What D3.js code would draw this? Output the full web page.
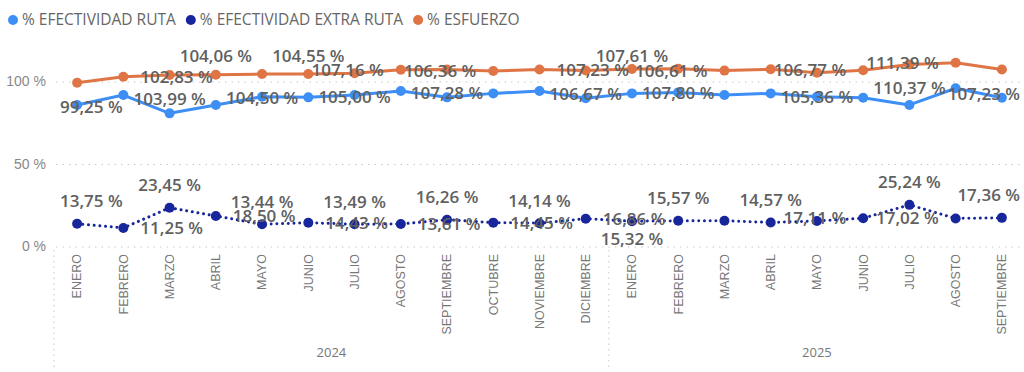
<!DOCTYPE html>
<html>
<head>
<meta charset="utf-8">
<script src="https://cdn.jsdelivr.net/npm/d3@7"></script>
<style>
    body { margin: 0; background: #fff; }
    svg { display: block; font-family: 'Open Sans', sans-serif; }
    .legend-text { fill: #666; font-size: 15.5px; }
    .y-axis text { fill: #888; font-size: 14px; }
    .x-axis text { fill: #777; font-size: 12.5px; }
    .year-label { fill: #777; font-size: 13px; }
    .data-label { fill: #606060; font-size: 17px; font-weight: 600; }
</style>
</head>
<body>
<svg id="chart" width="1024" height="372"></svg>
<script>
// periods on the category axis
const years = ['2024', '2025'];
const months2024 = ['ENERO', 'FEBRERO', 'MARZO', 'ABRIL', 'MAYO', 'JUNIO', 'JULIO', 'AGOSTO', 'SEPTIEMBRE', 'OCTUBRE', 'NOVIEMBRE', 'DICIEMBRE'];
const months2025 = ['ENERO', 'FEBRERO', 'MARZO', 'ABRIL', 'MAYO', 'JUNIO', 'JULIO', 'AGOSTO', 'SEPTIEMBRE'];

// series values (%)
const efectividadRuta = [85.8, 91.8, 80.7, 85.8, 90.8, 90.4, 91.8, 94.2, 90.4, 92.8, 94.2, 89.8, 92.8, 93.4, 91.8, 92.8, 90.8, 90.2, 85.8, 95.9, 90.2];
const efectividadExtraRuta = [13.75, 11.25, 23.45, 18.50, 13.44, 14.43, 13.49, 13.61, 16.26, 14.45, 14.14, 16.86, 15.32, 15.57, 15.6, 14.57, 15.5, 17.11, 25.24, 17.02, 17.36];
const esfuerzo = [99.25, 102.83, 103.99, 104.06, 104.50, 104.55, 105.00, 107.16, 107.28, 106.36, 107.23, 106.67, 107.61, 107.80, 106.61, 107.4, 105.36, 106.77, 110.37, 111.39, 107.23];

const yTicks = [0, 50, 100];

// where each data label sits relative to its point (a above, b below, l left, r right, null hidden)
const esfuerzoLabelPos = ['b', 'r', 'b', 'a', 'b', 'a', 'b', 'l', 'b', 'l', 'r', 'b', 'a', 'b', 'l', null, 'b', 'l', 'b', 'l', 'b'];
const extraLabelPos = ['a', 'r', 'a', 'r', 'a', 'r', 'a', 'r', 'a', 'r', 'a', 'r', 'b', 'a', null, 'a', null, 'l', 'a', 'l', 'a'];

document.addEventListener('DOMContentLoaded', function() {
    const svg = d3.select('#chart');

    const periods = months2024.map(m => ({ year: '2024', month: m }))
        .concat(months2025.map(m => ({ year: '2025', month: m })));
    const keys = periods.map((d, i) => String(i));

    const plotLeft = 54, plotRight = 1025;
    const x = d3.scaleBand().domain(keys).range([plotLeft, plotRight]);
    const cx = i => x(String(i)) + x.bandwidth() / 2;
    const y = d3.scaleLinear().domain([0, 100]).range([246.5, 81.5]);

    const series = [
        { name: '% EFECTIVIDAD RUTA', values: efectividadRuta, color: '#3d8ef5', dotted: false, labels: null },
        { name: '% EFECTIVIDAD EXTRA RUTA', values: efectividadExtraRuta, color: '#18269c', dotted: true, labels: extraLabelPos },
        { name: '% ESFUERZO', values: esfuerzo, color: '#df7445', dotted: false, labels: esfuerzoLabelPos }
    ];

    drawLegend();
    drawAxes();
    series.forEach(drawSeries);
    series.forEach(drawLabels);

    function drawLegend() {
        let lx = 8;
        series.forEach(s => {
            svg.append('circle').attr('cx', lx + 5).attr('cy', 20).attr('r', 5).attr('fill', s.color);
            const t = svg.append('text').attr('class', 'legend-text')
                .attr('x', lx + 14).attr('y', 20).attr('dy', '0.35em').text(s.name);
            lx += 14 + t.node().getComputedTextLength() + 10;
        });
    }

    function drawAxes() {
        const gy = svg.append('g').attr('class', 'y-axis').attr('transform', 'translate(56,0)')
            .call(d3.axisLeft(y).tickValues(yTicks).tickSize(-964).tickPadding(10).tickFormat(d => d + ' %'));
        gy.select('.domain').remove();
        gy.selectAll('line').attr('stroke', '#c8c8c8').attr('stroke-dasharray', '1.5,5');

        const gx = svg.append('g').attr('class', 'x-axis').attr('transform', 'translate(0,254)')
            .call(d3.axisBottom(x).tickSize(0).tickFormat(k => periods[+k].month));
        gx.select('.domain').remove();
        gx.selectAll('text')
            .attr('x', 0).attr('y', 0).attr('dy', '0.35em')
            .attr('transform', 'rotate(-90)')
            .style('text-anchor', 'end');

        // hierarchy separators and year labels
        const firstOf2025 = months2024.length;
        [plotLeft, x(String(firstOf2025))].forEach(sx => {
            svg.append('line').attr('x1', sx).attr('x2', sx).attr('y1', 250).attr('y2', 367)
                .attr('stroke', '#c8c8c8').attr('stroke-dasharray', '1.5,4');
        });
        years.forEach(yr => {
            const idx = periods.map((d, i) => i).filter(i => periods[i].year === yr);
            const mid = (cx(idx[0]) + cx(idx[idx.length - 1])) / 2;
            svg.append('text').attr('class', 'year-label').attr('x', mid).attr('y', 352)
                .attr('dy', '0.35em').style('text-anchor', 'middle').text(yr);
        });
    }

    function drawSeries(s) {
        const line = d3.line().x((d, i) => cx(i)).y(d => y(d)).curve(d3.curveLinear);
        const path = svg.append('path').datum(s.values)
            .attr('d', line).attr('fill', 'none').attr('stroke', s.color)
            .attr('stroke-width', 3).attr('stroke-linejoin', 'round');
        if (s.dotted) {
            path.attr('stroke-dasharray', '0.01,5.7').attr('stroke-linecap', 'round');
        }
        svg.append('g').selectAll('circle').data(s.values).enter().append('circle')
            .attr('cx', (d, i) => cx(i)).attr('cy', d => y(d)).attr('r', 5).attr('fill', s.color);
    }

    function drawLabels(s) {
        if (!s.labels) return;
        const fmt = v => v.toFixed(2).replace('.', ',') + ' %';
        s.values.forEach((v, i) => {
            const pos = s.labels[i];
            if (!pos) return;
            const px = cx(i), py = y(v);
            const t = svg.append('text').attr('class', 'data-label').attr('dy', '0.35em').text(fmt(v));
            const w = t.node().getComputedTextLength();
            let lx = px - w / 2, ly = py;
            if (pos === 'a') ly = py - 22.5;
            if (pos === 'b') ly = py + 24;
            if (pos === 'r') lx = px + 17;
            if (pos === 'l') lx = px - 17 - w;
            lx = Math.max(60, Math.min(1020 - w, lx));
            ly = Math.max(55.7, Math.min(239.5, ly));
            t.attr('x', lx).attr('y', ly);
        });
    }
});
</script>
</body>
</html>
